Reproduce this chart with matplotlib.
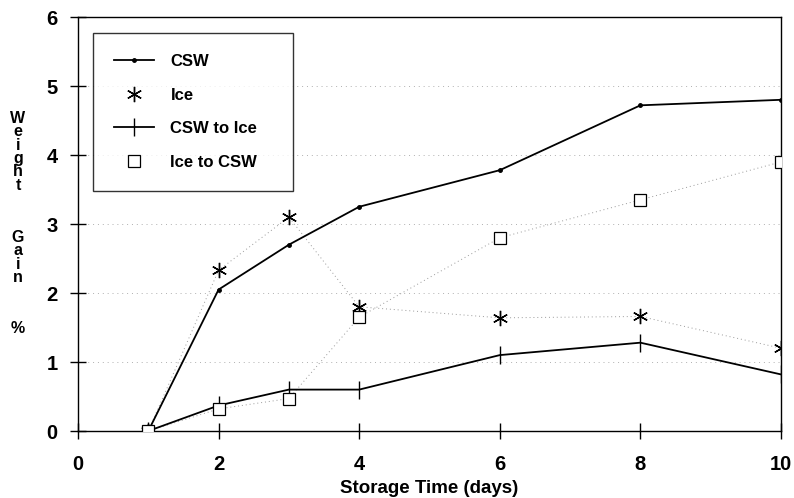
import matplotlib
matplotlib.use("Agg")
import matplotlib.pyplot as plt

plt.rcParams['font.family'] = ['Liberation Sans', 'DejaVu Sans']
plt.rcParams['font.weight'] = 'bold'

days = [1, 2, 3, 4, 6, 8, 10]
csw = [0.0, 2.05, 2.70, 3.25, 3.78, 4.72, 4.80]
ice = [0.0, 2.33, 3.10, 1.80, 1.64, 1.66, 1.20]
csw_to_ice = [0.0, 0.37, 0.60, 0.60, 1.10, 1.28, 0.82]
ice_to_csw = [0.0, 0.32, 0.47, 1.65, 2.80, 3.35, 3.90]

xticks = [0, 2, 4, 6, 8, 10]
yticks = [0, 1, 2, 3, 4, 5, 6]
ylabel_words = ["Weight", "Gain", "%"]
ylabel_top_pix = [111, 230, 321]

fig = plt.figure(figsize=(7.94, 4.98), dpi=100)
ax = fig.add_axes([78/794, 1-431/498, (781-78)/794, (431-17)/498])

for yv in yticks[1:-1]:
    ax.axhline(yv, color='#b0b0b0', lw=0.7, ls=(0, (1, 4)), zorder=0)

# faint connecting lines (scan-faded)
ax.plot(days, ice, color='#9a9a9a', lw=0.7, ls=(0, (1, 3)), zorder=1)
ax.plot(days, ice_to_csw, color='#9a9a9a', lw=0.7, ls=(0, (1, 3)), zorder=1)

ax.plot(days, csw, color='black', lw=1.3, marker='o', ms=2.5, label='CSW', zorder=3)
ax.plot(days, ice, color='black', lw=0, marker=(6, 2, 0), ms=11, mew=1.0, label='Ice', zorder=3)
ax.plot(days, csw_to_ice, color='black', lw=1.3, marker='|', ms=13, mew=1.0, label='CSW to Ice', zorder=3)
ax.plot(days, ice_to_csw, color='black', lw=0, marker='s', ms=8, mfc='white', mew=0.9,
        label='Ice to CSW', zorder=4)

ax.set_xlim(0, 10)
ax.set_ylim(0, 6)
ax.set_xticks(xticks)
ax.set_yticks(yticks)
ax.tick_params(direction='inout', length=11, width=1.0, labelsize=14.5)
ax.tick_params(axis='x', pad=12)
ax.tick_params(axis='y', pad=9)
for lab in ax.get_xticklabels() + ax.get_yticklabels():
    lab.set_fontweight('bold')
for s in ax.spines.values():
    s.set_linewidth(1.0)

ax.set_xlabel('Storage Time (days)', fontsize=13.5, fontweight='bold', labelpad=4)

for word, yp in zip(ylabel_words, ylabel_top_pix):
    fig.text(18/794, 1-yp/498, "\n".join(word), ha='center', va='top', fontsize=11.5,
             fontweight='bold', linespacing=0.86, multialignment='center')

leg = ax.legend(loc='upper left', bbox_to_anchor=(15/703, 1-16/414, 200/703, 0),
                mode='expand', prop={'weight': 'bold', 'size': 12},
                frameon=True, fancybox=False, edgecolor='black', labelspacing=1.12,
                handlelength=2.4, handletextpad=1.0, borderpad=1.25, borderaxespad=0)
leg.get_frame().set_linewidth(1.0)

fig.savefig('out.png', dpi=100)
